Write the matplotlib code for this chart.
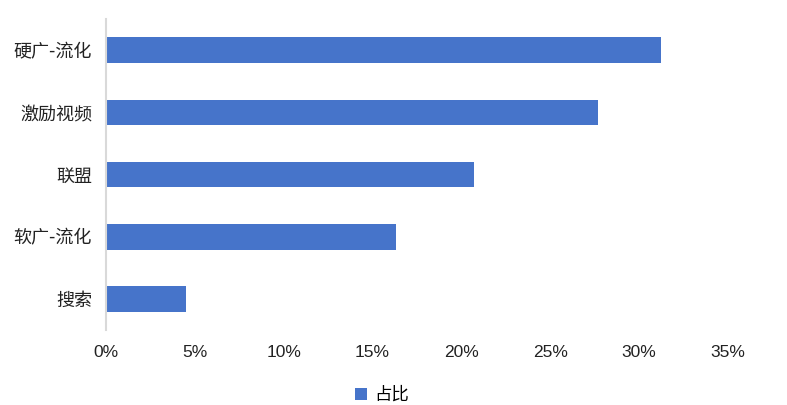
import matplotlib
matplotlib.use('Agg')
import matplotlib.pyplot as plt
from matplotlib.ticker import FuncFormatter

plt.rcParams['font.family'] = ['Noto Sans CJK SC', 'DejaVu Sans']

# data
categories = ['硬广-流化', '激励视频', '联盟', '软广-流化', '搜索']
shares = [0.312, 0.277, 0.207, 0.163, 0.045]
series_name = '占比'

fig = plt.figure(figsize=(7.87, 4.05), dpi=100)
ax = fig.add_axes([0.1347, 0.185, 0.7904, 0.768])

ypos = list(range(len(categories)))[::-1]
ax.barh(ypos, shares, height=0.41, color='#4674CA', label=series_name)

ax.set_xlim(0, 0.35)
ax.set_ylim(-0.5, len(categories) - 0.5)
ax.set_xticks([i * 0.05 for i in range(8)])
ax.xaxis.set_major_formatter(FuncFormatter(lambda v, p: f'{v * 100:.0f}%'))
ax.set_yticks(ypos)
ax.set_yticklabels(categories)

for s in ['top', 'right', 'bottom']:
    ax.spines[s].set_visible(False)
ax.spines['left'].set_color('#D9D9D9')
ax.spines['left'].set_linewidth(1.5)
ax.tick_params(axis='both', length=0, colors='#222222')
ax.tick_params(axis='x', pad=11, labelsize=12.5)
ax.tick_params(axis='y', pad=10, labelsize=13)
for lbl in ax.get_xticklabels():
    lbl.set_fontfamily('Liberation Sans')

fig.legend(loc='center', bbox_to_anchor=(0.485, 0.025), frameon=False,
           fontsize=12.5, handlelength=0.7, handleheight=0.7, handletextpad=0.4)

fig.savefig('out.png', dpi=100, facecolor='white')
